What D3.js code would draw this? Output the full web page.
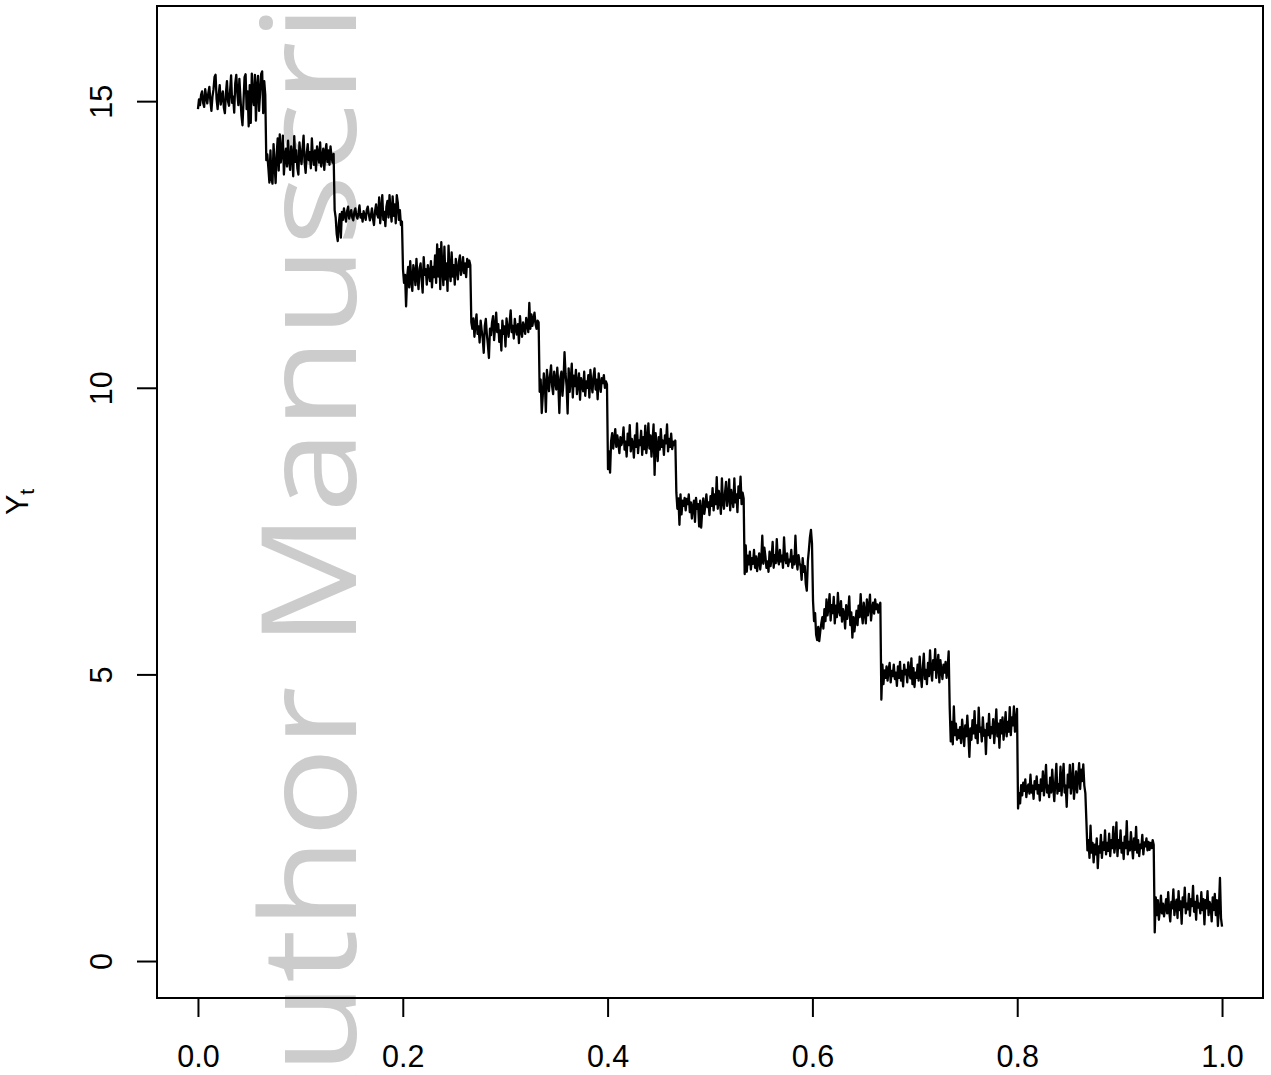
<!DOCTYPE html>
<html>
<head>
<meta charset="utf-8">
<script src="https://cdn.jsdelivr.net/npm/d3@7"></script>
<style>
  html, body { margin: 0; padding: 0; background: #fff; }
  svg { display: block; }
</style>
</head>
<body>
<svg id="chart" width="1271" height="1075"></svg>
<script>
// Piecewise-constant signal with noise: one array of observations per regime (level 15 down to 1).
const seg01 = [14.86,15.03,14.93,15.11,15.17,14.97,14.90,15.21,15.07,14.96,15.14,15.25,15.00,14.83,15.08,15.20,15.42,15.46,15.03,14.86,15.11,15.28,14.94,15.07,15.17,14.89,14.79,15.14,15.35,15.00,14.92,15.17,15.45,14.97,15.08,14.80,15.31,15.46,15.14,14.93,15.39,15.07,14.75,14.58,15.00,15.42,15.47,14.86,15.17,14.56,15.28,14.62,15.48,15.07,14.93,15.46,14.66,15.25,15.44,14.83,15.14,15.47,15.52,14.79,15.35,15.11];
const seg02 = [13.97,14.07,13.83,13.58,14.14,13.65,13.56,14.25,13.89,13.57,14.07,14.35,13.79,14.42,13.93,14.11,14.40,13.72,14.03,14.17,13.86,14.31,13.97,13.80,14.21,14.07,13.69,14.39,13.94,14.14,13.83,13.72,14.28,14.06,13.90,14.17,14.40,13.93,13.75,14.08,14.25,13.97,14.11,13.83,14.35,14.03,13.89,14.14,13.79,14.21,14.07,13.93,14.28,13.86,14.00,14.17,13.80,14.11,14.25,13.94,14.14,13.89,14.21,14.03,13.93,14.08];
const seg03 = [13.10,12.97,12.68,12.56,12.87,13.03,12.62,13.07,12.93,13.13,13.00,12.90,13.08,13.16,12.95,13.03,13.10,12.97,12.92,13.07,13.13,13.00,12.95,13.05,13.18,12.97,13.03,12.90,13.08,13.00,12.93,13.10,13.16,13.03,12.92,13.00,13.13,12.95,12.84,13.08,13.20,13.03,12.97,13.32,12.87,13.10,13.36,12.93,13.07,12.82,13.16,13.26,12.97,13.36,13.08,12.90,13.34,13.00,13.20,12.87,13.36,13.23,12.93,13.10,12.84,12.90];
const seg04 = [12.07,11.83,11.97,11.42,11.93,12.11,11.75,12.21,11.86,11.69,12.14,12.03,11.79,12.25,11.93,11.72,12.08,12.17,11.89,11.66,12.28,11.97,12.07,11.80,12.14,12.00,11.86,12.21,11.75,12.11,11.93,12.31,11.83,12.50,11.94,12.42,11.72,12.54,12.07,11.79,12.46,11.89,12.17,11.69,12.48,12.03,11.86,12.36,11.94,12.14,11.80,12.25,12.07,11.89,12.20,12.31,11.97,12.08,12.28,12.00,12.17,11.93,12.25,12.11,12.22,12.14];
const seg05 = [11.14,11.03,11.21,10.89,11.11,11.28,10.94,11.07,10.79,11.17,11.00,10.86,10.61,11.08,11.20,10.93,10.75,10.52,11.03,10.92,11.14,11.25,10.83,11.06,11.31,10.97,11.11,10.80,11.00,10.65,11.17,10.94,11.07,10.72,11.21,11.03,10.89,11.14,11.35,10.97,11.08,10.86,11.20,11.03,10.93,11.11,10.78,11.25,11.00,10.89,11.14,11.06,10.94,11.22,11.11,10.97,11.48,11.03,11.28,11.08,11.20,11.31,11.11,11.03,11.17,11.14];
const seg06 = [9.93,10.14,9.56,9.86,10.25,10.07,9.58,10.31,10.11,9.94,10.21,10.39,10.03,9.89,10.28,10.14,9.97,10.35,10.07,9.56,10.17,10.28,9.86,10.11,10.62,10.25,10.03,9.55,10.34,9.93,10.14,10.42,9.83,10.21,10.03,10.31,9.89,10.08,10.25,9.79,10.17,10.06,9.94,10.28,9.86,10.11,10.00,10.22,9.83,10.31,10.07,9.92,10.20,10.34,9.97,10.14,9.80,10.25,10.06,9.93,10.17,10.08,10.22,10.00,10.11,10.06];
const seg07 = [8.58,8.89,8.52,9.07,9.21,8.94,9.11,9.28,8.97,9.17,9.03,8.86,9.14,9.00,9.08,9.31,8.92,9.06,8.80,9.20,9.00,9.35,8.89,9.11,9.03,8.78,9.17,8.97,9.38,8.86,9.08,9.00,9.25,8.83,9.14,8.93,9.34,8.86,9.06,9.38,8.94,9.17,8.80,9.07,9.36,8.48,9.21,8.97,8.72,9.14,8.92,9.28,8.97,9.08,8.83,9.17,9.03,9.36,8.89,9.11,8.97,9.20,8.93,9.06,9.00,9.08];
const seg08 = [8.17,7.89,8.07,7.61,8.14,7.79,8.03,7.94,8.08,7.86,8.06,7.97,8.14,7.83,8.00,7.72,7.92,8.03,7.66,8.08,7.89,7.97,7.58,8.03,7.56,7.86,8.07,7.80,7.94,8.14,7.92,8.00,7.78,8.11,7.94,8.25,7.86,8.14,7.97,8.44,7.89,8.20,8.06,7.80,8.42,8.00,7.89,8.17,8.36,7.94,8.08,8.40,7.86,8.22,8.06,7.92,8.42,8.00,8.14,7.83,8.28,8.08,8.45,7.97,8.17,8.07];
const seg09 = [6.75,7.25,6.79,7.07,6.92,7.14,6.83,7.03,6.93,7.17,6.86,7.06,6.80,6.97,7.11,6.83,7.00,7.42,6.93,7.21,7.06,6.86,6.97,6.79,7.14,6.89,7.03,7.31,6.86,7.08,6.94,7.36,7.00,6.92,7.17,6.97,7.07,6.86,7.39,7.03,6.94,7.11,6.89,7.00,6.97,7.17,6.86,7.06,6.92,7.42,7.00,6.83,7.08,6.94,6.89,6.65,7.03,6.79,6.89,6.58,6.46,6.97,7.17,7.39,7.52,7.28];
const seg10 = [6.28,5.93,6.07,5.69,5.60,5.83,5.58,5.75,5.89,6.00,5.80,6.14,5.93,6.31,6.03,6.17,6.40,5.94,6.21,6.07,6.35,5.89,6.20,6.00,6.42,6.11,6.03,6.28,5.92,6.14,6.06,5.80,6.21,5.97,6.11,6.36,5.86,6.08,5.64,6.00,5.75,5.94,6.11,5.86,6.20,6.00,6.40,6.06,5.89,6.25,6.08,5.89,6.31,6.03,6.17,6.39,5.94,6.14,6.25,6.06,6.31,6.14,6.22,6.08,6.20,6.25];
const seg11 = [4.56,5.17,4.83,5.07,4.94,5.14,4.89,5.08,5.20,4.86,5.06,4.97,5.17,4.92,5.03,4.80,5.14,4.94,5.22,4.89,5.06,4.79,5.17,5.00,5.08,4.86,5.21,5.03,4.93,5.28,4.83,5.11,4.78,5.03,4.94,5.17,4.89,5.31,5.00,4.78,5.11,5.36,4.92,5.08,4.83,5.20,4.97,5.42,5.06,4.89,5.25,5.08,5.44,4.94,5.14,5.34,4.86,5.25,5.06,4.92,5.17,5.03,5.22,4.94,5.11,5.40];
const seg12 = [4.42,3.83,4.17,3.78,4.44,3.94,4.14,3.86,4.03,3.89,4.08,3.80,4.21,3.97,3.75,4.11,3.92,4.28,3.94,3.56,4.06,3.86,4.20,3.97,4.36,3.89,4.11,3.80,4.42,4.00,4.07,3.83,4.25,3.93,4.03,3.61,4.14,3.94,4.31,3.89,4.08,3.97,4.22,3.80,4.06,4.39,3.92,4.14,3.72,4.20,3.97,4.25,3.86,4.08,4.34,3.92,4.17,4.00,4.43,3.94,4.25,4.11,4.44,4.00,4.20,4.40];
const seg13 = [2.66,2.93,2.75,3.07,2.89,3.11,2.97,3.17,2.86,3.03,3.08,2.92,3.25,2.94,3.06,2.83,3.14,3.00,3.22,2.92,3.07,2.80,3.17,2.97,3.31,2.89,3.11,3.42,2.94,3.06,2.86,3.20,2.94,3.34,3.03,2.79,3.14,3.44,2.92,3.08,2.97,3.39,2.89,3.17,3.44,2.94,3.06,2.69,3.25,3.03,3.42,2.92,3.11,3.44,2.83,3.08,3.31,2.94,3.20,3.45,3.00,3.34,3.14,3.43,3.06,2.93];
const seg14 = [2.44,1.93,2.11,1.80,2.36,1.89,2.06,1.72,2.03,1.86,2.14,1.62,2.00,1.89,2.20,1.80,2.07,1.94,2.28,1.86,2.06,1.92,2.22,1.83,2.11,1.97,2.34,1.89,2.03,2.42,1.83,2.11,1.97,2.28,1.89,2.06,1.78,2.17,1.97,2.44,1.86,2.08,1.93,2.25,2.00,1.79,2.14,1.94,2.34,1.89,2.11,1.83,2.03,1.97,2.20,1.86,2.07,2.00,2.14,1.93,2.08,1.94,2.06,1.97,2.11,2.03];
const seg15 = [0.50,1.11,0.80,1.06,0.72,0.89,1.14,0.83,1.00,0.78,0.93,1.08,0.83,1.20,0.86,0.69,1.03,0.92,1.25,0.80,0.97,1.07,0.75,1.22,0.89,1.04,0.65,1.11,0.94,1.28,0.83,1.00,0.90,1.17,0.79,1.08,0.96,1.31,0.86,1.03,0.72,1.14,0.93,1.00,0.83,1.20,0.89,1.08,0.64,1.06,0.92,1.22,0.80,1.03,0.97,0.69,1.11,0.89,1.17,0.80,1.06,0.61,0.94,1.45,0.75,0.60];

const xTicks = [0, 0.2, 0.4, 0.6, 0.8, 1.0];
const yTicks = [0, 5, 10, 15];
const xLim = [-0.04, 1.04];
const yLim = [-0.645, 16.66];
const yLabel = "Y";
const ySub = "t";
const watermark = "Author Manuscript";

// Observations on an evenly spaced time grid over [0, 1]
const yt = [].concat(seg01, seg02, seg03, seg04, seg05, seg06, seg07, seg08,
                     seg09, seg10, seg11, seg12, seg13, seg14, seg15);
const series = yt.map((v, i) => ({ t: i / (yt.length - 1), y: v }));

const svg = d3.select("#chart");
const box = { left: 157, right: 1263, top: 6, bottom: 998 };

const x = d3.scaleLinear().domain(xLim).range([box.left, box.right]);
const y = d3.scaleLinear().domain(yLim).range([box.bottom, box.top]);

// Background watermark, running bottom to top
svg.append("text")
  .attr("transform", "translate(356,514) rotate(-90) scale(1.143,1)")
  .attr("text-anchor", "middle")
  .attr("font-family", "'Open Sans', sans-serif")
  .attr("font-size", 131)
  .attr("fill", "#cccccc")
  .text(watermark);

// Series
const line = d3.line().x(d => x(d.t)).y(d => y(d.y));
svg.append("path")
  .datum(series)
  .attr("d", line)
  .attr("fill", "none")
  .attr("stroke", "#000")
  .attr("stroke-width", 2.3)
  .attr("stroke-linejoin", "round");

// Plot frame
svg.append("rect")
  .attr("x", box.left).attr("y", box.top)
  .attr("width", box.right - box.left).attr("height", box.bottom - box.top)
  .attr("fill", "none").attr("stroke", "#000").attr("stroke-width", 2);

const axisFont = "'Liberation Sans', Arial, Helvetica, sans-serif";

// x axis
const gx = svg.append("g")
  .attr("transform", `translate(0,${box.bottom})`)
  .call(d3.axisBottom(x).tickValues(xTicks).tickSize(19).tickSizeOuter(0).tickFormat(d3.format(".1f")));
gx.select(".domain").remove();
gx.selectAll(".tick line").attr("stroke", "#000").attr("stroke-width", 2);
gx.selectAll(".tick text")
  .attr("y", 69).attr("dy", 0)
  .attr("font-family", axisFont).attr("font-size", 30.5).attr("fill", "#000");

// y axis
const gy = svg.append("g")
  .attr("transform", `translate(${box.left},0)`)
  .call(d3.axisLeft(y).tickValues(yTicks).tickSize(20).tickSizeOuter(0));
gy.select(".domain").remove();
gy.selectAll(".tick line").attr("stroke", "#000").attr("stroke-width", 2);
gy.selectAll(".tick text")
  .attr("x", 0).attr("dy", 0)
  .attr("text-anchor", "middle")
  .attr("transform", "translate(-45,0) rotate(-90)")
  .attr("font-family", axisFont).attr("font-size", 30.5).attr("fill", "#000");

// y axis title with subscript
const yTitle = svg.append("text")
  .attr("transform", `translate(28,${(box.top + box.bottom) / 2}) rotate(-90)`)
  .attr("text-anchor", "middle")
  .attr("font-family", axisFont)
  .attr("font-size", 30.5)
  .attr("fill", "#000");
yTitle.append("tspan").text(yLabel);
yTitle.append("tspan").attr("dy", 6).attr("font-size", 21).text(ySub);
</script>
</body>
</html>
